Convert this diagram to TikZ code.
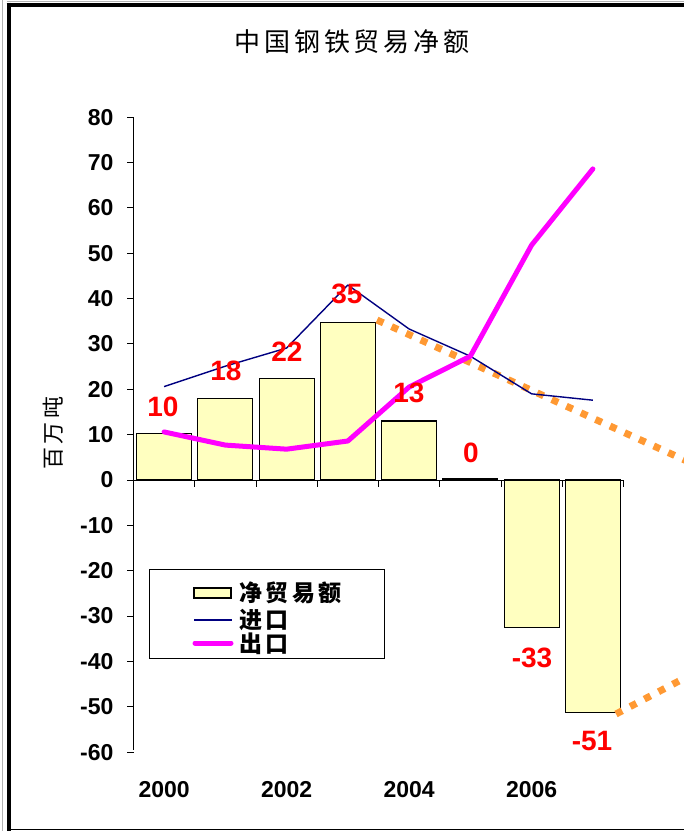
\documentclass[tikz,border=0pt]{standalone}
\usepackage{fontspec}
\setmainfont{Liberation Sans}
\newfontfamily\cjksp[LetterSpace=15]{Noto Sans CJK SC}
\definecolor{barfill}{RGB}{255,255,192}
\definecolor{impcol}{RGB}{0,0,128}
\definecolor{expcol}{RGB}{255,0,255}
\definecolor{trendcol}{RGB}{255,153,51}
\definecolor{valred}{RGB}{255,0,0}
\begin{document}
\begin{tikzpicture}[x=1pt,y=-1pt,
  ticklab/.style={font=\fontsize{23}{23}\selectfont\bfseries},
  vallab/.style={font=\fontsize{28}{28}\selectfont\bfseries, text=valred},
  barbox/.style={draw=black, line width=1.2pt, fill=barfill},
  axisline/.style={draw=black, line width=1pt},
  impline/.style={draw=impcol, line width=1.4pt, line join=round},
  expline/.style={draw=expcol, line width=5pt, line join=round, line cap=round},
  trend/.style={draw=trendcol, line width=7pt, dash pattern=on 7pt off 9pt},
  cjklab/.style={font=\fontsize{23}{23}\selectfont\cjksp\bfseries}]
\useasboundingbox (0,0) rectangle (684,831);
\clip (0,0) rectangle (684,831);
% frame
\draw[gray!60, line width=1pt] (2.7,0) -- (2.7,831);
\draw[gray!60, line width=0.8pt] (7,1.2) -- (684,1.2);
\draw[black, line width=4.4pt] (8.8,2.7) -- (8.8,831);
\draw[black, line width=4.6pt] (6.6,5) -- (684,5);
\draw[black, line width=1.6pt] (11,829.5) -- (684,829.5);
% title
\node[font=\fontsize{26}{26}\selectfont\cjksp] (title) at (352,42) {中国钢铁贸易净额};
% y axis label
\node[rotate=90, font=\fontsize{22}{22}\selectfont\cjksp] (ylab) at (53,433) {百万吨};
% bars
\foreach \i/\v in {0/10.2,1/17.9,2/22.4,3/34.7,4/13.0,5/0.4,6/-32.6,7/-51.2} {
  \pgfmathsetmacro\cx{133.5+61.25*(\i+0.5)}
  \draw[barbox] (\cx-27.5,480) rectangle (\cx+27.5,{480-4.535*(\v)});
}
% axes
\draw[axisline] (133.5,117) -- (133.5,750);
\foreach \v in {80,70,...,-60} {
  \pgfmathsetmacro\yy{480-4.535*(\v)}
  \draw[axisline] (127,\yy) -- (133.5,\yy);
  \node[ticklab, anchor=east] (yt\v) at (117,\yy) {\v};
}
\draw[axisline] (127,480) -- (624,480);
\foreach \k in {0,...,8} {
  \draw[axisline] (133.5+61.25*\k,480) -- (133.5+61.25*\k,487);
}
\foreach \i/\yr in {0/2000,2/2002,4/2004,6/2006} {
  \node[ticklab] (yr\yr) at (133.5+61.25*\i+30.6,790) {\yr};
}
% trend lines (dotted)
\coordinate (ta) at (377,320);
\coordinate (tb) at (700,467);
\coordinate (tc) at (616,714);
\coordinate (td) at (700,670);
\draw[trend] (ta) -- (tb);
\draw[trend] (tc) -- (td);
% import / export points
\foreach \i/\v in {0/20.6,1/25.1,2/29.1,3/43.0,4/33.3,5/27.3,6/19.0,7/17.6} {
  \coordinate (imp\i) at (133.5+61.25*\i+30.6,{480-4.535*(\v)});
}
\foreach \i/\v in {0/10.6,1/7.7,2/6.8,3/8.6,4/20.5,5/27.3,6/51.8,7/68.6} {
  \coordinate (exp\i) at (133.5+61.25*\i+30.6,{480-4.535*(\v)});
}
\draw[impline] (imp0) -- (imp1) -- (imp2) -- (imp3) -- (imp4) -- (imp5) -- (imp6) -- (imp7);
\draw[expline] (exp0) -- (exp1) -- (exp2) -- (exp3) -- (exp4) -- (exp5) -- (exp6) -- (exp7);
% value labels
\node[vallab] (v2000) at (163,407) {10};
\node[vallab] (v2001) at (226,371) {18};
\node[vallab] (v2002) at (287,352) {22};
\node[vallab] (v2003) at (347,294) {35};
\node[vallab] (v2004) at (409,393) {13};
\node[vallab] (v2005) at (471,453) {0};
\node[vallab] (v2006) at (532,658) {-33};
\node[vallab] (v2007) at (592,741) {-51};
% legend
\node[draw=black, line width=1pt, fill=white, minimum width=235pt, minimum height=89pt, anchor=north west, inner sep=0pt] (legend) at (149,569) {};
\draw[barbox] (194,588) rectangle (231,598);
\coordinate (li1) at (194,620); \coordinate (li2) at (232,620);
\coordinate (le1) at (195,643); \coordinate (le2) at (231,643);
\draw[impline] (li1) -- (li2);
\draw[expline] (le1) -- (le2);
\node[cjklab, anchor=west] (lg1) at (236,593) {净贸易额};
\node[cjklab, anchor=west] (lg2) at (236,620) {进口};
\node[cjklab, anchor=west] (lg3) at (236,644) {出口};
\end{tikzpicture}
\end{document}
